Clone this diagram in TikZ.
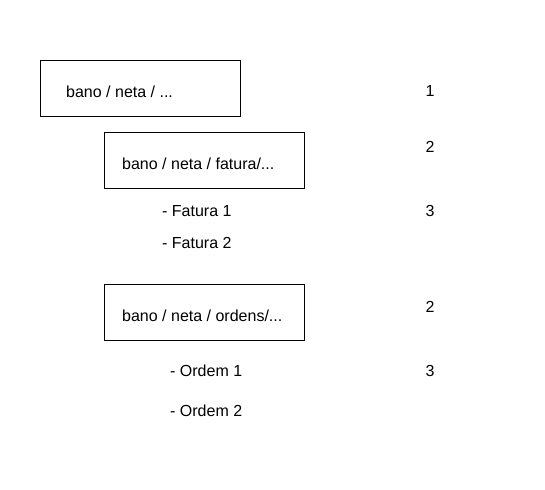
\documentclass[tikz,border=0pt]{standalone}
\usepackage{fontspec}
\setmainfont{Liberation Sans}
\usetikzlibrary{positioning}
\tikzset{pathbox/.style={draw,line width=0.8pt,minimum width=200pt,minimum height=56pt,anchor=north west},
    item/.style={anchor=west,inner sep=0pt,font=\fontsize{16}{18}\selectfont},
    level/.style={inner sep=0pt,font=\fontsize{16}{18}\selectfont}}

\begin{document}
\begin{tikzpicture}[x=1pt,y=-1pt]
    \useasboundingbox (0,0) rectangle (545,489);
    \node[pathbox] (root) at (40,60) {};
    \node[item] (rootlabel) at ([xshift=26pt,yshift=-3pt]root.west) {bano / neta / ...};
    \node[pathbox] (fatura) at (104,132) {};
    \node[item] (faturalabel) at ([xshift=18pt,yshift=-3pt]fatura.west) {bano / neta / fatura/...};
    \node[item] (fat1) at (162,211) {- Fatura 1};
    \node[item] (fat2) at (162,243) {- Fatura 2};
    \node[pathbox] (ordens) at (104,284) {};
    \node[item] (ordenslabel) at ([xshift=18pt,yshift=-3pt]ordens.west) {bano / neta / ordens/...};
    \node[item] (ord1) at (170,371) {- Ordem 1};
    \node[item] (ord2) at (170,411) {- Ordem 2};
    \node[level] (lvla) at (430,91) {1};
    \node[level] (lvlb) at (430,147) {2};
    \node[level] (lvlc) at (430,211) {3};
    \node[level] (lvld) at (430,307) {2};
    \node[level] (lvle) at (430,371) {3};
\end{tikzpicture}
\end{document}
